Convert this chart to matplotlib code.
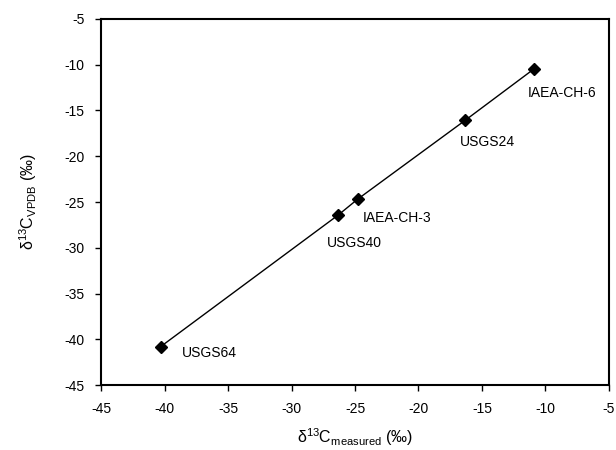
import matplotlib
matplotlib.use("Agg")
import matplotlib.pyplot as plt

plt.rcParams['font.family'] = ['Liberation Sans', 'DejaVu Sans']
plt.rcParams['mathtext.default'] = 'regular'
plt.rcParams['mathtext.fontset'] = 'custom'
plt.rcParams['mathtext.rm'] = 'Liberation Sans'

names = ["USGS64", "USGS40", "IAEA-CH-3", "USGS24", "IAEA-CH-6"]
measured = [-40.3, -26.3, -24.8, -16.3, -10.9]
vpdb = [-40.8, -26.4, -24.7, -16.05, -10.45]
label_offsets_px = [(21, -6), (-12, -28), (5, -19), (-6, -22), (-6, -24)]
xticks = [-45, -40, -35, -30, -25, -20, -15, -10, -5]
yticks = [-45, -40, -35, -30, -25, -20, -15, -10, -5]

fig = plt.figure(figsize=(6.16, 4.5), dpi=100)
ax = fig.add_axes([0.164, 0.1444, 0.8246, 0.8134])

ax.plot(measured, vpdb, color='black', linewidth=1.0, marker='D',
        markersize=6.5, markerfacecolor='black', markeredgecolor='black')

for n, x, y, (dx, dy) in zip(names, measured, vpdb, label_offsets_px):
    ax.annotate(n, (x, y), xytext=(dx * 0.72, dy * 0.72), textcoords='offset points',
                ha='left', va='center', fontsize=10)

ax.set_xlim(-45, -5)
ax.set_ylim(-45, -5)
ax.set_xticks(xticks)
ax.set_yticks(yticks)
ax.set_xticklabels([str(t) for t in xticks])
ax.set_yticklabels([str(t) for t in yticks])
ax.tick_params(direction='out', length=4, width=1, labelsize=10, pad=8)
for s in ax.spines.values():
    s.set_linewidth(1.5)

ax.set_xlabel("δ$^{13}$C$_{measured}$ (‰)", fontsize=11.5, labelpad=8)
ax.set_ylabel("δ$^{13}$C$_{VPDB}$ (‰)", fontsize=11.5, labelpad=18)

fig.savefig("out.png", dpi=100)
